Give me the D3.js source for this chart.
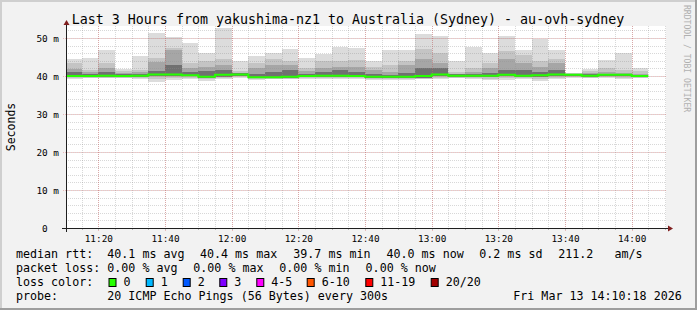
<html>
<head>
<meta charset="utf-8">
<style>
  body { margin: 0; background: #fff; }
  text { font-family: "DejaVu Sans Mono", monospace; fill: #000; }
</style>
</head>
<body>
<script src="https://cdnjs.cloudflare.com/ajax/libs/d3/7.8.5/d3.min.js"></script>
<script>
// 5-minute steps, start of each step
var times = ["11:10","11:15","11:20","11:25","11:30","11:35","11:40","11:45","11:50","11:55",
             "12:00","12:05","12:10","12:15","12:20","12:25","12:30","12:35","12:40","12:45","12:50","12:55",
             "13:00","13:05","13:10","13:15","13:20","13:25","13:30","13:35","13:40","13:45","13:50","13:55",
             "14:00"];

// ms
var maxRtt = [44.4,44.8,46.8,41.9,45.3,51.4,50.3,48.8,46.1,52.7,43.9,45.3,46.0,47.2,44.7,45.7,47.7,47.5,
              44.0,46.8,46.8,51.0,50.6,43.9,47.7,46.0,50.4,46.8,49.7,46.8,40.9,41.9,44.2,46.1,42.0];
var upA    = [43.3,41.6,43.5,41.2,41.5,44.8,47.5,43.5,44.0,44.5,41.3,43.5,44.5,44.0,42.0,44.0,44.0,44.2,
              42.5,43.0,44.0,47.0,46.0,41.0,42.0,43.5,46.5,45.5,44.0,44.5,40.7,41.2,42.0,41.5,41.2];
var upB    = [41.9,41.0,42.0,40.8,41.0,43.8,46.8,42.0,42.5,43.0,40.9,42.2,43.0,42.8,41.2,42.0,42.5,42.5,
              41.5,41.0,43.0,44.5,43.5,40.6,41.0,42.0,44.5,43.5,42.5,43.5,40.6,40.8,41.0,40.9,40.6];
var upC    = [41.0,40.6,41.0,40.5,40.6,41.3,43.0,41.0,41.2,41.5,40.7,40.5,41.0,41.5,40.5,41.0,41.5,41.0,
              40.5,40.3,40.8,42.0,42.0,40.4,40.5,40.8,41.5,41.5,41.0,41.5,40.5,40.5,40.6,40.6,40.3];
var median = [40.0,40.0,40.1,40.0,40.1,40.4,40.4,40.2,39.8,40.3,40.4,39.7,39.7,39.8,40.0,40.1,40.1,40.0,
              39.8,39.8,39.8,40.0,40.4,40.1,40.1,40.1,40.3,40.1,40.2,40.4,40.3,40.1,40.3,40.3,40.0];
var loB    = [39.7,39.7,39.8,39.7,39.8,40.0,40.0,39.9,39.4,39.8,40.1,39.4,39.4,39.5,39.7,39.8,39.7,39.7,
              39.4,39.5,39.5,39.6,40.0,39.8,39.8,39.7,39.9,39.8,39.8,40.0,40.0,39.8,40.0,39.9,39.7];
var loA    = [39.5,39.6,39.6,39.5,39.5,39.3,39.6,39.6,39.1,39.5,39.9,39.2,39.3,39.3,39.5,39.5,39.4,39.5,
              39.1,39.2,39.2,39.3,39.6,39.6,39.5,39.3,39.4,39.5,39.3,39.6,39.8,39.6,39.7,39.6,39.5];
var minRtt = [39.3,39.4,39.5,39.4,39.3,38.4,38.9,39.2,38.8,39.2,39.6,39.0,39.2,39.2,39.3,39.2,39.1,39.3,
              38.9,38.9,39.0,39.1,39.2,39.4,39.3,38.9,39.0,39.3,38.8,39.2,39.6,39.4,39.5,39.3,39.4];

var yTickValues = [0, 10, 20, 30, 40, 50];

var title = "Last 3 Hours from yakushima-nz1 to Australia (Sydney) - au-ovh-sydney";
var rttStats = ["40.1 ms avg", "40.4 ms max", "39.7 ms min", "40.0 ms now", "0.2 ms sd", "211.2   am/s"];
var lossStats = ["0.00 % avg", "0.00 % max", "0.00 % min", "0.00 % now"];
var lossLabels = ["0", "1", "2", "3", "4-5", "6-10", "11-19", "20/20"];
var lossColors = ["#26ff00", "#00b8ff", "#0059ff", "#7e00ff", "#ff00ff", "#ff5500", "#ff0000", "#a10000"];
var probeText = "20 ICMP Echo Pings (56 Bytes) every 300s";
var stamp = "Fri Mar 13 14:10:18 2026";

var width = 697, height = 310;
var plotL = 66, plotR = 666, plotT = 26, plotB = 228;

var parse = function(s) {
    var p = s.split(":");
    return new Date(2026, 2, 13, +p[0], +p[1], 0);
};
var step = 5 * 60 * 1000;

var data = times.map(function(t, i) {
    return { t: parse(t), max: maxRtt[i], upA: upA[i], upB: upB[i], upC: upC[i],
             med: median[i], loB: loB[i], loA: loA[i], min: minRtt[i] };
});

var x = d3.scaleTime()
    .domain([new Date(2026, 2, 13, 11, 10, 18), new Date(2026, 2, 13, 14, 10, 18)])
    .range([plotL, plotR]);

var y = d3.scaleLinear()
    .domain([0, 53.16])
    .range([plotB, plotT]);

var svg = d3.select("body").append("svg")
    .attr("width", width)
    .attr("height", height);

// background + shade border
svg.append("rect").attr("width", width).attr("height", height).attr("fill", "#f2f2f2");
svg.append("rect").attr("x", 0).attr("y", 0).attr("width", width).attr("height", 2).attr("fill", "#cfcfcf");
svg.append("rect").attr("x", 0).attr("y", 0).attr("width", 2).attr("height", height).attr("fill", "#cfcfcf");
svg.append("rect").attr("x", 0).attr("y", height - 2).attr("width", width).attr("height", 2).attr("fill", "#9e9e9e");
svg.append("rect").attr("x", width - 2).attr("y", 0).attr("width", 2).attr("height", height).attr("fill", "#9e9e9e");

svg.append("rect")
    .attr("x", plotL).attr("y", plotT)
    .attr("width", plotR - plotL).attr("height", plotB - plotT)
    .attr("fill", "#fff");

svg.append("clipPath").attr("id", "plot")
    .append("rect")
    .attr("x", plotL).attr("y", plotT)
    .attr("width", plotR - plotL).attr("height", plotB - plotT);

var g = svg.append("g").attr("clip-path", "url(#plot)");

// smoke bands, outer to inner
var bands = [
    ["min", "max", "#dcdcdc"],
    ["loA", "upA", "#c4c4c4"],
    ["loB", "upB", "#a6a6a6"],
    ["loB", "upC", "#707070"]
];

bands.forEach(function(b) {
    g.selectAll(null)
        .data(data)
        .enter().append("rect")
        .attr("x", function(d) { return x(d.t); })
        .attr("width", function(d) { return x(new Date(+d.t + step)) - x(d.t); })
        .attr("y", function(d) { return y(d[b[1]]); })
        .attr("height", function(d) { return y(d[b[0]]) - y(d[b[1]]); })
        .attr("fill", b[2])
        .attr("shape-rendering", "crispEdges");
});

// grid on top of smoke
var grid = svg.append("g");
var minorX = x.ticks(d3.timeMinute.every(5)),
    majorX = x.ticks(d3.timeMinute.every(20)),
    minorY = d3.range(0, 54, 2);

grid.selectAll(null).data(minorX).enter().append("line")
    .attr("x1", function(d) { return Math.round(x(d)) + 0.5; })
    .attr("x2", function(d) { return Math.round(x(d)) + 0.5; })
    .attr("y1", plotT).attr("y2", plotB)
    .attr("stroke", "rgba(143,143,143,0.35)")
    .attr("stroke-dasharray", "1,1");

grid.selectAll(null).data(minorY).enter().append("line")
    .attr("x1", plotL).attr("x2", plotR)
    .attr("y1", function(d) { return Math.round(y(d)) + 0.5; })
    .attr("y2", function(d) { return Math.round(y(d)) + 0.5; })
    .attr("stroke", "rgba(143,143,143,0.35)")
    .attr("stroke-dasharray", "1,1");

grid.selectAll(null).data(majorX).enter().append("line")
    .attr("x1", function(d) { return Math.round(x(d)) + 0.5; })
    .attr("x2", function(d) { return Math.round(x(d)) + 0.5; })
    .attr("y1", plotT).attr("y2", plotB + 3)
    .attr("stroke", "rgba(222,79,79,0.35)")
    .attr("stroke-dasharray", "1,1");

grid.selectAll(null).data(yTickValues).enter().append("line")
    .attr("x1", plotL - 3).attr("x2", plotR)
    .attr("y1", function(d) { return Math.round(y(d)) + 0.5; })
    .attr("y2", function(d) { return Math.round(y(d)) + 0.5; })
    .attr("stroke", "rgba(222,79,79,0.35)")
    .attr("stroke-dasharray", "1,1");

// minor ticks under x axis
grid.selectAll(null).data(minorX).enter().append("line")
    .attr("x1", function(d) { return Math.round(x(d)) + 0.5; })
    .attr("x2", function(d) { return Math.round(x(d)) + 0.5; })
    .attr("y1", plotB).attr("y2", plotB + 2)
    .attr("stroke", "rgba(143,143,143,0.6)");

// median line, loss colour 0
var pts = data.map(function(d) { return [d.t, d.med]; });
pts.push([new Date(+data[data.length - 1].t + step), data[data.length - 1].med]);

svg.append("path")
    .datum(pts)
    .attr("clip-path", "url(#plot)")
    .attr("fill", "none")
    .attr("stroke", lossColors[0])
    .attr("stroke-width", 2)
    .attr("d", d3.line()
        .x(function(d) { return x(d[0]); })
        .y(function(d) { return y(d[1]); })
        .curve(d3.curveStepAfter));

// axes
svg.append("line")
    .attr("x1", plotL - 4).attr("x2", plotR + 3)
    .attr("y1", plotB + 0.5).attr("y2", plotB + 0.5)
    .attr("stroke", "#1f1f1f");
svg.append("line")
    .attr("x1", plotL + 0.5).attr("x2", plotL + 0.5)
    .attr("y1", plotB + 4).attr("y2", plotT - 2)
    .attr("stroke", "#1f1f1f");
svg.append("path")
    .attr("d", "M" + (plotR + 7) + "," + (plotB + 0.5) + "L" + (plotR + 2) + "," + (plotB - 2.5) +
               "L" + (plotR + 2) + "," + (plotB + 3.5) + "Z")
    .attr("fill", "#801f1f");
svg.append("path")
    .attr("d", "M" + (plotL + 0.5) + "," + (plotT - 6) + "L" + (plotL - 2.5) + "," + (plotT - 1) +
               "L" + (plotL + 3.5) + "," + (plotT - 1) + "Z")
    .attr("fill", "#801f1f");

// tick labels
var yAxis = d3.axisLeft(y)
    .tickValues(yTickValues)
    .tickSize(0)
    .tickPadding(0)
    .tickFormat(function(d) { return d === 0 ? "0\u00a0\u00a0" : d + " m"; });
var ya = svg.append("g").attr("transform", "translate(" + (plotL - 7) + ",0)").call(yAxis);
ya.select(".domain").remove();
ya.selectAll("text")
    .attr("dy", "0.33em")
    .style("font-family", "DejaVu Sans Mono")
    .style("font-size", "9.4px")
    .attr("fill", "#000");

var xAxis = d3.axisBottom(x)
    .ticks(d3.timeMinute.every(20))
    .tickSize(0)
    .tickPadding(0)
    .tickFormat(d3.timeFormat("%H:%M"));
var xa = svg.append("g").attr("transform", "translate(0," + (plotB + 13.5) + ")").call(xAxis);
xa.select(".domain").remove();
xa.selectAll("text")
    .attr("dy", 0)
    .style("font-family", "DejaVu Sans Mono")
    .style("font-size", "9.4px")
    .attr("fill", "#000");

// titles
svg.append("text")
    .attr("x", 348).attr("y", 23.5)
    .attr("text-anchor", "middle")
    .style("font-size", "13.3px")
    .text(title);

svg.append("text")
    .attr("transform", "translate(15,127) rotate(-90)")
    .attr("text-anchor", "middle")
    .style("font-size", "11.5px")
    .text("Seconds");

svg.append("text")
    .attr("transform", "translate(683.5,5) rotate(90)")
    .style("font-size", "8.1px")
    .style("fill", "#b0b0b0")
    .text("RRDTOOL / TOBI OETIKER");

// legend
var legend = svg.append("g").style("font-size", "11.66px");
var rows = [258, 272, 286, 300];

function put(txt, px, py) {
    legend.append("text").attr("x", px).attr("y", py).attr("xml:space", "preserve").text(txt);
}

put("median rtt:", 16, rows[0]);
[107.3, 200, 293.3, 386.5, 479.3, 558.3].forEach(function(px, i) { put(rttStats[i], px, rows[0]); });

put("packet loss:", 16, rows[1]);
[107.3, 193.3, 279.3, 365.6].forEach(function(px, i) { put(lossStats[i], px, rows[1]); });

put("loss color:", 16, rows[2]);
var boxX = [108.5, 145.7, 182.7, 219.3, 256.3, 306.7, 365.3, 430.7];
lossLabels.forEach(function(l, i) {
    legend.append("rect")
        .attr("x", boxX[i] + 0.5).attr("y", rows[2] - 7.5)
        .attr("width", 7).attr("height", 8)
        .attr("fill", lossColors[i])
        .attr("stroke", "#000");
    put(l, boxX[i] + 15, rows[2]);
});

put("probe:", 16, rows[3]);
put(probeText, 107.3, rows[3]);
put(stamp, 513.3, rows[3]);
</script>
</body>
</html>
